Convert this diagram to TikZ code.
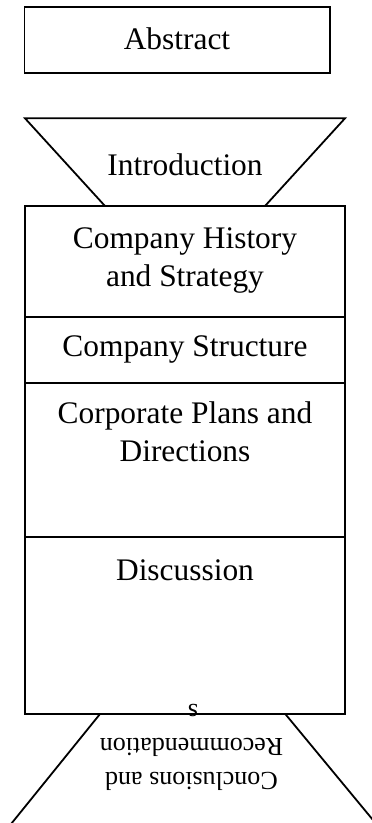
\documentclass[tikz,border=0pt]{standalone}
\usepackage{fontspec}
\setmainfont{Liberation Serif}
\begin{document}
\begin{tikzpicture}[x=1pt,y=-1pt,
  outline/.style={draw=black,line width=1.8pt,line join=miter},
  title/.style={inner sep=0pt,anchor=base,font=\fontsize{31.4}{38}\selectfont},
  flipped/.style={inner sep=0pt,anchor=base,rotate=180,font=\fontsize{26}{34}\selectfont}]
  \useasboundingbox (0,0) rectangle (372,823);
  \clip (0,0) rectangle (372,823);

  % Abstract box
  \draw[outline] (24.5,7) rectangle (330,73);
  \node[title] (abstract) at (177,49.3) {Abstract};

  % Introduction funnel
  \draw[outline] (25,118.3) -- (345,118.3) -- (265,206) -- (105,206) -- cycle;
  \node[title] (intro) at (185,175) {Introduction};

  % Stacked body sections
  \draw[outline] (25,206) rectangle (345,714);
  \draw[outline] (25,316.7) -- (345,316.7);
  \draw[outline] (25,382.7) -- (345,382.7);
  \draw[outline] (25,536.7) -- (345,536.7);

  \node[title] (hist1) at (185,248) {Company History};
  \node[title] (hist2) at (185,286.5) {and Strategy};
  \node[title] (struct) at (185,356.7) {Company Structure};
  \node[title] (plans1) at (185,423.3) {Corporate Plans and};
  \node[title] (plans2) at (185,461.7) {Directions};
  \node[title] (disc) at (185,580) {Discussion};

  % Conclusions funnel, opening downwards
  \draw[outline] (-10,850) -- (100,714) -- (285.3,714) -- (397.8,850);
  \node[flipped] (conc1) at (191.5,772.3) {Conclusions and};
  \node[flipped] (conc2) at (191.5,738.3) {Recommendation};
  \node[flipped] (conc3) at (193,704.3) {s};
\end{tikzpicture}
\end{document}
